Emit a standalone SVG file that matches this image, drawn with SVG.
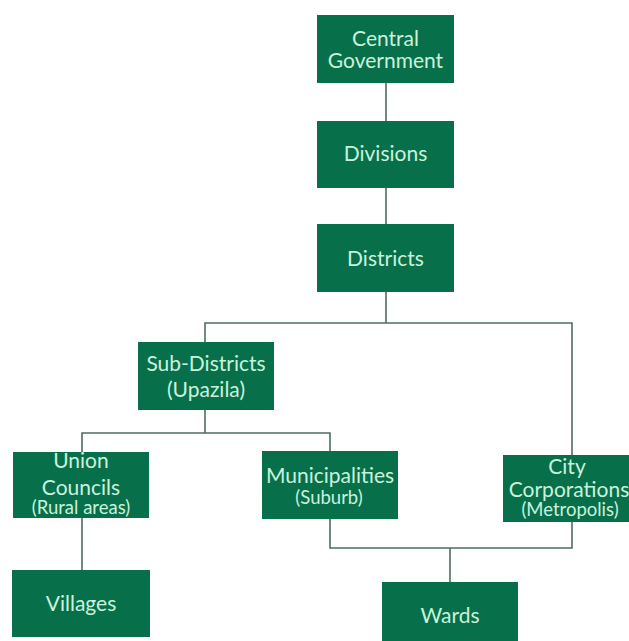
<svg xmlns="http://www.w3.org/2000/svg" width="629" height="641" viewBox="0 0 629 641">
<style>
.box{fill:#07704a;}
.t{font-family:Lato,"Open Sans",sans-serif;font-size:21px;fill:#c9f2dd;text-anchor:middle;}
.s{font-size:18.5px;}
.c{fill:none;stroke:#4f6d65;stroke-width:1.6;}
</style>
<rect width="629" height="641" fill="#ffffff"/>
<g id="connectors" class="c">
<line x1="386" y1="83" x2="386" y2="121"/>
<line x1="386" y1="188" x2="386" y2="224"/>
<line x1="386" y1="292" x2="386" y2="323"/>
<polyline points="205,342 205,323 572,323 572,455"/>
<line x1="205" y1="410" x2="205" y2="433"/>
<polyline points="82,452 82,433 330,433 330,451"/>
<line x1="82" y1="518" x2="82" y2="570"/>
<polyline points="330,519 330,548 572,548 572,522"/>
<line x1="450" y1="548" x2="450" y2="582"/>
</g>
<g id="central"><rect class="box" x="317" y="15" width="137" height="68"/><text class="t" x="385.5" y="46">Central</text><text class="t" x="385.5" y="68">Government</text></g>
<g id="divisions"><rect class="box" x="317" y="121" width="137" height="67"/><text class="t" x="385.5" y="161">Divisions</text></g>
<g id="districts"><rect class="box" x="317" y="224" width="137" height="68"/><text class="t" x="385.5" y="266">Districts</text></g>
<g id="subdistricts"><rect class="box" x="138" y="342" width="136" height="68"/><text class="t" x="206" y="371">Sub-Districts</text><text class="t" x="206" y="397">(Upazila)</text></g>
<g id="union"><rect class="box" x="13" y="452" width="136" height="66"/><text class="t" x="81" y="468">Union</text><text class="t" x="81" y="495">Councils</text><text class="t s" x="81" y="514">(Rural areas)</text></g>
<g id="municipalities"><rect class="box" x="262" y="451" width="136" height="68"/><text class="t" x="330" y="483">Municipalities</text><text class="t s" x="329" y="504">(Suburb)</text></g>
<g id="city"><rect class="box" x="503" y="455" width="126" height="67"/><text class="t" x="567" y="474">City</text><text class="t" x="569" y="497">Corporations</text><text class="t s" x="570" y="516">(Metropolis)</text></g>
<g id="villages"><rect class="box" x="12" y="570" width="138" height="67"/><text class="t" x="81" y="611">Villages</text></g>
<g id="wards"><rect class="box" x="382" y="582" width="136" height="60"/><text class="t" x="450" y="623">Wards</text></g>
</svg>
